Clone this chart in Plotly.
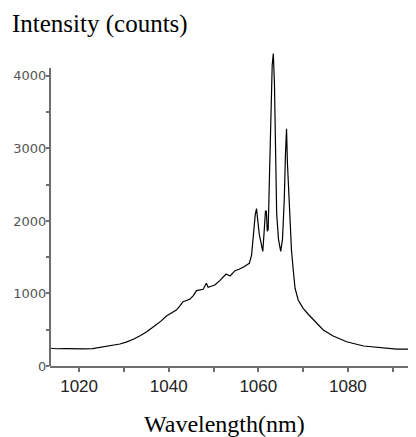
import plotly.graph_objects as go

wavelength_nm = [1013.5, 1015, 1017, 1019, 1021, 1023, 1024.7, 1027, 1029.1, 1030.5, 1032.1, 1033.5,
                 1035.1, 1036.9, 1038.2, 1039.5, 1040.6, 1041.7, 1042.5, 1043.2, 1044.7, 1045.5,
                 1046.2, 1047.7, 1048.4, 1048.8, 1049.5, 1050.3, 1051.4, 1052.8, 1053.7, 1054.8,
                 1055.7, 1056.6, 1058.0, 1058.5, 1059.0, 1059.3, 1059.6, 1059.9, 1060.2, 1060.6, 1061.0,
                 1061.3, 1061.6, 1061.8, 1062.0, 1062.2, 1062.5, 1062.8, 1063.1, 1063.35, 1063.6,
                 1063.85, 1064.1, 1064.5, 1065.0, 1065.4, 1065.8, 1066.05, 1066.3, 1066.5, 1066.7,
                 1067.1, 1067.4, 1067.8, 1068.2, 1068.9, 1070.0, 1071.2, 1072.3, 1073.4, 1074.5,
                 1076.7, 1079.7, 1083.5, 1087.2, 1090.9, 1095.5]

intensity_counts = [245, 238, 240, 234, 236, 240, 258, 275, 303, 330, 368, 415,
                    473, 556, 615, 690, 730, 772, 830, 887, 920, 970,
                    1039, 1058, 1141, 1085, 1100, 1117, 1177, 1269, 1241, 1314,
                    1335, 1361, 1416, 1531, 1870, 2080, 2170, 1950, 1820, 1700, 1580,
                    1850, 2140, 2130, 1860, 1880, 2600, 3400, 4150, 4310, 3900,
                    3000, 2100, 1750, 1580, 1750, 2300, 2900, 3270, 2800, 2540,
                    2050, 1600, 1324, 1072, 910, 796, 710, 634, 560, 497,
                    414, 335, 276, 252, 234, 234]

x_title = "Wavelength(nm)"
y_title = "Intensity (counts)"

axis_color = "#6e6e6e"

fig = go.Figure()
fig.add_trace(go.Scatter(x=wavelength_nm, y=intensity_counts, mode="lines",
                         line=dict(color="black", width=1.2), showlegend=False,
                         hoverinfo="skip"))

# page body has an 8px margin, so the figure is sized 408x429 to fill the 416x437 window
fig.update_layout(
    width=408, height=429,
    margin=dict(l=42, r=0, t=44, b=71, autoexpand=False),
    paper_bgcolor="white", plot_bgcolor="white",
    xaxis=dict(range=[1013.5, 1095.2], showgrid=False, zeroline=False, automargin=False,
               showline=True, linecolor=axis_color, linewidth=2,
               tickmode="linear", tick0=1020, dtick=20,
               ticks="outside", ticklen=4, tickwidth=1.5, tickcolor=axis_color,
               minor=dict(tickmode="linear", tick0=1020, dtick=10, ticks="outside",
                          ticklen=4, tickwidth=1.5, tickcolor=axis_color),
               tickfont=dict(family="Liberation Sans, Arial", size=17, color="#222")),
    yaxis=dict(range=[0, 4330], showgrid=False, zeroline=False, showline=False, automargin=False,
               tickmode="array", tickvals=[0, 1000, 2000, 3000, 4000],
               ticktext=["0", "1000", "2000", "3000", "4000"],
               ticks="outside", ticklen=3, tickwidth=1.5, tickcolor=axis_color,
               ticklabelstandoff=-3,
               minor=dict(tickmode="array", tickvals=[500, 1500, 2500, 3500],
                          ticks="outside", ticklen=3, tickwidth=1.5, tickcolor=axis_color),
               tickfont=dict(family="DejaVu Sans", size=13, color="#555")),
    shapes=[dict(type="line", xref="paper", yref="y", x0=0, x1=0, y0=0, y1=4110,
                 line=dict(color=axis_color, width=2))],
    annotations=[
        dict(text=y_title, xref="paper", yref="paper", x=-0.108, y=1.089,
             xanchor="left", yanchor="middle", showarrow=False,
             font=dict(family="Liberation Serif, Times New Roman", size=25, color="black")),
        dict(text=x_title, xref="paper", yref="paper", x=0.478, y=-0.185,
             xanchor="center", yanchor="middle", showarrow=False,
             font=dict(family="Liberation Serif, Times New Roman", size=24, color="black")),
    ],
)

fig.write_html("out.html")
